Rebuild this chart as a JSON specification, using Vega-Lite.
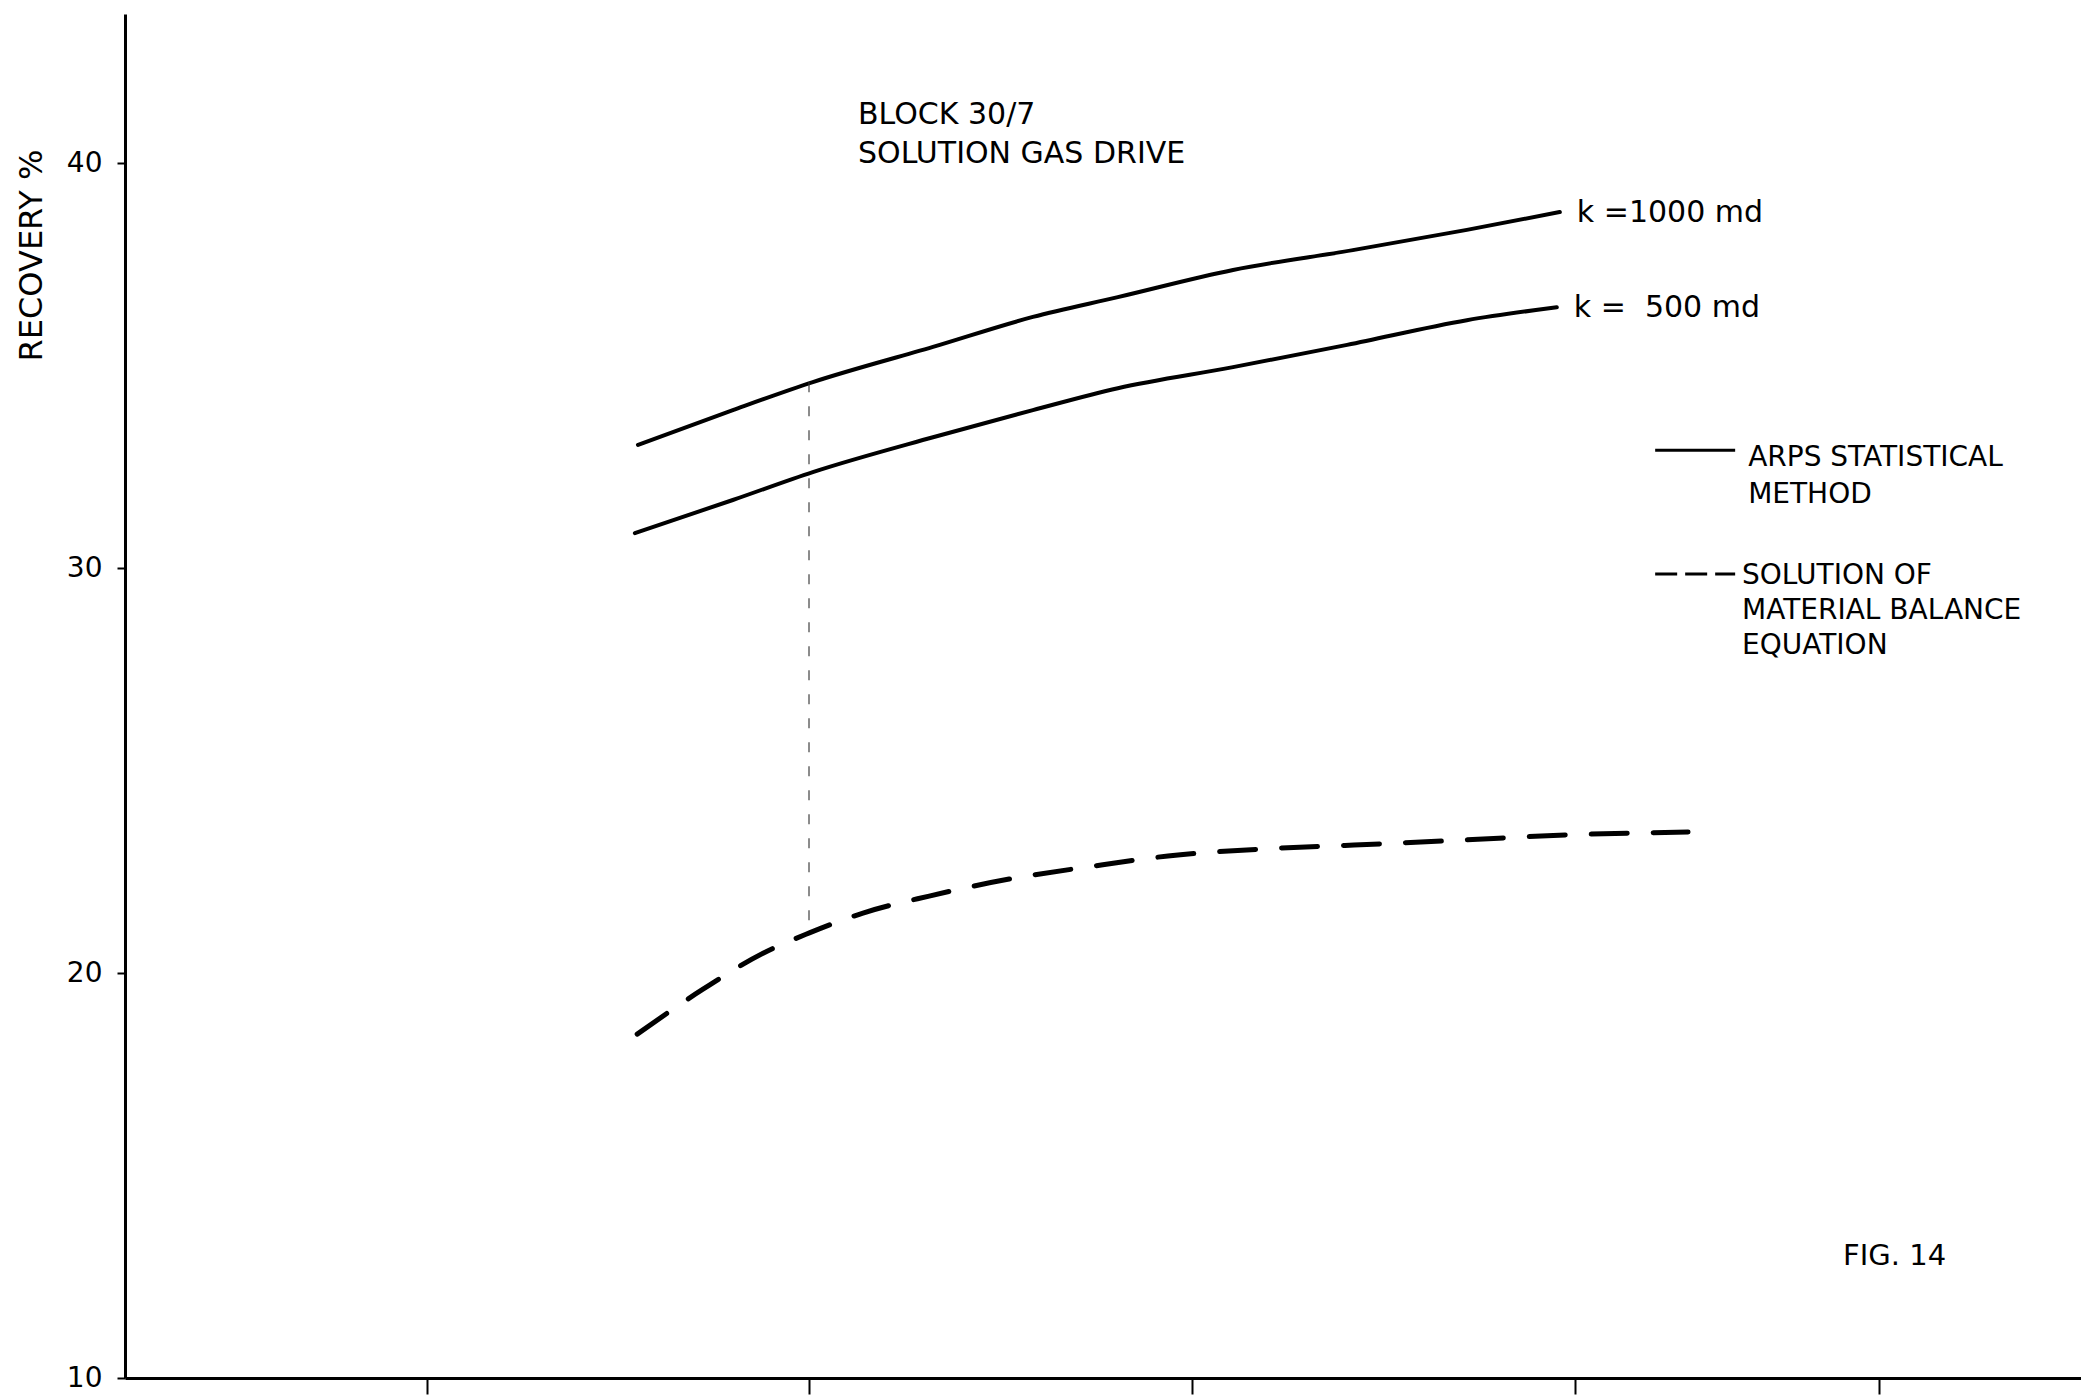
{
  "$schema": "https://vega.github.io/schema/vega-lite/v6.json",
  "width": 1956,
  "height": 1364,
  "autosize": {"type": "none"},
  "padding": {"left": 125, "top": 14, "right": 0, "bottom": 20},
  "background": "white",
  "config": {
    "view": {"stroke": null},
    "font": "DejaVu Sans",
    "axis": {"grid": false, "domainColor": "black", "tickColor": "black", "labelColor": "black", "titleColor": "black"},
    "text": {"font": "DejaVu Sans", "color": "black"}
  },
  "datasets": {
    "curves": [
      {"series": "k =1000 md", "method": "ARPS", "x": 1.552, "y": 33.04},
      {"series": "k =1000 md", "method": "ARPS", "x": 1.800, "y": 33.90},
      {"series": "k =1000 md", "method": "ARPS", "x": 2.009, "y": 34.59},
      {"series": "k =1000 md", "method": "ARPS", "x": 2.323, "y": 35.46},
      {"series": "k =1000 md", "method": "ARPS", "x": 2.584, "y": 36.20},
      {"series": "k =1000 md", "method": "ARPS", "x": 2.806, "y": 36.69},
      {"series": "k =1000 md", "method": "ARPS", "x": 3.107, "y": 37.36},
      {"series": "k =1000 md", "method": "ARPS", "x": 3.420, "y": 37.85},
      {"series": "k =1000 md", "method": "ARPS", "x": 3.718, "y": 38.35},
      {"series": "k =1000 md", "method": "ARPS", "x": 3.961, "y": 38.79},
      {"series": "k = \u00a0500 md", "method": "ARPS", "x": 1.544, "y": 30.86},
      {"series": "k = \u00a0500 md", "method": "ARPS", "x": 1.800, "y": 31.68},
      {"series": "k = \u00a0500 md", "method": "ARPS", "x": 2.009, "y": 32.37},
      {"series": "k = \u00a0500 md", "method": "ARPS", "x": 2.323, "y": 33.23},
      {"series": "k = \u00a0500 md", "method": "ARPS", "x": 2.584, "y": 33.90},
      {"series": "k = \u00a0500 md", "method": "ARPS", "x": 2.806, "y": 34.44},
      {"series": "k = \u00a0500 md", "method": "ARPS", "x": 3.107, "y": 34.96},
      {"series": "k = \u00a0500 md", "method": "ARPS", "x": 3.405, "y": 35.51},
      {"series": "k = \u00a0500 md", "method": "ARPS", "x": 3.718, "y": 36.12},
      {"series": "k = \u00a0500 md", "method": "ARPS", "x": 3.953, "y": 36.44},
      {"series": "material balance", "method": "MBE", "x": 1.550, "y": 18.49},
      {"series": "material balance", "method": "MBE", "x": 1.722, "y": 19.60},
      {"series": "material balance", "method": "MBE", "x": 1.879, "y": 20.49},
      {"series": "material balance", "method": "MBE", "x": 2.000, "y": 20.99},
      {"series": "material balance", "method": "MBE", "x": 2.140, "y": 21.48},
      {"series": "material balance", "method": "MBE", "x": 2.313, "y": 21.90},
      {"series": "material balance", "method": "MBE", "x": 2.522, "y": 22.32},
      {"series": "material balance", "method": "MBE", "x": 2.728, "y": 22.62},
      {"series": "material balance", "method": "MBE", "x": 2.937, "y": 22.89},
      {"series": "material balance", "method": "MBE", "x": 3.180, "y": 23.06},
      {"series": "material balance", "method": "MBE", "x": 3.423, "y": 23.16},
      {"series": "material balance", "method": "MBE", "x": 3.700, "y": 23.28},
      {"series": "material balance", "method": "MBE", "x": 3.977, "y": 23.41},
      {"series": "material balance", "method": "MBE", "x": 4.296, "y": 23.48}
    ]
  },
  "data": {"name": "curves"},
  "layer": [
    {
      "transform": [{"filter": "datum.method === 'ARPS'"}],
      "mark": {"type": "line", "color": "black", "strokeWidth": 4, "strokeCap": "round", "interpolate": "monotone"},
      "encoding": {
        "x": {
          "field": "x", "type": "quantitative",
          "scale": {"domain": [0.2117, 5.3227], "nice": false, "zero": false},
          "axis": {"values": [1, 2, 3, 4, 4.795], "labels": false, "title": null, "tickSize": 16, "tickWidth": 2, "domainWidth": 3}
        },
        "y": {
          "field": "y", "type": "quantitative",
          "scale": {"domain": [10, 43.68], "nice": false, "zero": false},
          "axis": {
            "values": [10, 20, 30, 40],
            "tickSize": 8, "tickWidth": 2, "domainWidth": 3,
            "labelFontSize": 28, "labelPadding": 15, "labelFont": "DejaVu Sans",
            "title": "RECOVERY %", "titleFontSize": 32, "titleFontWeight": "normal", "titleFont": "DejaVu Sans",
            "titleAngle": 270, "titleX": -84, "titleY": 241, "titleAlign": "center", "titleBaseline": "alphabetic"
          }
        },
        "detail": {"field": "series"}
      }
    },
    {
      "transform": [{"filter": "datum.method === 'MBE'"}],
      "mark": {"type": "line", "color": "black", "strokeWidth": 5, "strokeCap": "round", "strokeDash": [36, 26], "interpolate": "monotone"},
      "encoding": {
        "x": {"field": "x", "type": "quantitative"},
        "y": {"field": "y", "type": "quantitative"}
      }
    },
    {
      "transform": [
        {"filter": "datum.method === 'ARPS'"},
        {"joinaggregate": [{"op": "max", "field": "x", "as": "xEnd"}], "groupby": ["series"]},
        {"filter": "datum.x === datum.xEnd"}
      ],
      "mark": {"type": "text", "align": "left", "baseline": "middle", "dx": 17, "dy": 1, "fontSize": 30},
      "encoding": {
        "x": {"field": "x", "type": "quantitative"},
        "y": {"field": "y", "type": "quantitative"},
        "text": {"field": "series"}
      }
    },
    {
      "data": {"values": [{}]},
      "mark": {"type": "rule", "color": "#333333", "strokeWidth": 1.5, "strokeDash": [10, 14], "opacity": 0.75},
      "encoding": {
        "x": {"datum": 1.999, "type": "quantitative"},
        "y": {"datum": 34.59, "type": "quantitative"},
        "y2": {"datum": 21.2}
      }
    },
    {
      "data": {"values": [{}]},
      "mark": {"type": "text", "align": "left", "baseline": "alphabetic", "fontSize": 30, "lineHeight": 39,
               "text": ["BLOCK  30/7", "SOLUTION GAS  DRIVE"]},
      "encoding": {
        "x": {"datum": 2.127, "type": "quantitative"},
        "y": {"datum": 40.96, "type": "quantitative"}
      }
    },
    {
      "data": {"values": [{}]},
      "mark": {"type": "rule", "color": "black", "strokeWidth": 3},
      "encoding": {
        "x": {"datum": 4.210, "type": "quantitative"},
        "x2": {"datum": 4.419},
        "y": {"datum": 32.91, "type": "quantitative"}
      }
    },
    {
      "data": {"values": [{}]},
      "mark": {"type": "rule", "color": "black", "strokeWidth": 3, "strokeDash": [22, 8]},
      "encoding": {
        "x": {"datum": 4.210, "type": "quantitative"},
        "x2": {"datum": 4.419},
        "y": {"datum": 29.85, "type": "quantitative"}
      }
    },
    {
      "data": {"values": [{}]},
      "mark": {"type": "text", "align": "left", "baseline": "alphabetic", "fontSize": 28, "lineHeight": 37,
               "text": ["ARPS STATISTICAL", "METHOD"]},
      "encoding": {
        "x": {"datum": 4.453, "type": "quantitative"},
        "y": {"datum": 32.52, "type": "quantitative"}
      }
    },
    {
      "data": {"values": [{}]},
      "mark": {"type": "text", "align": "left", "baseline": "alphabetic", "fontSize": 28, "lineHeight": 35,
               "text": ["SOLUTION OF", "MATERIAL BALANCE", "EQUATION"]},
      "encoding": {
        "x": {"datum": 4.437, "type": "quantitative"},
        "y": {"datum": 29.60, "type": "quantitative"}
      }
    },
    {
      "data": {"values": [{}]},
      "mark": {"type": "text", "align": "left", "baseline": "alphabetic", "fontSize": 29, "text": "FIG.  14"},
      "encoding": {
        "x": {"datum": 4.701, "type": "quantitative"},
        "y": {"datum": 12.79, "type": "quantitative"}
      }
    }
  ]
}
